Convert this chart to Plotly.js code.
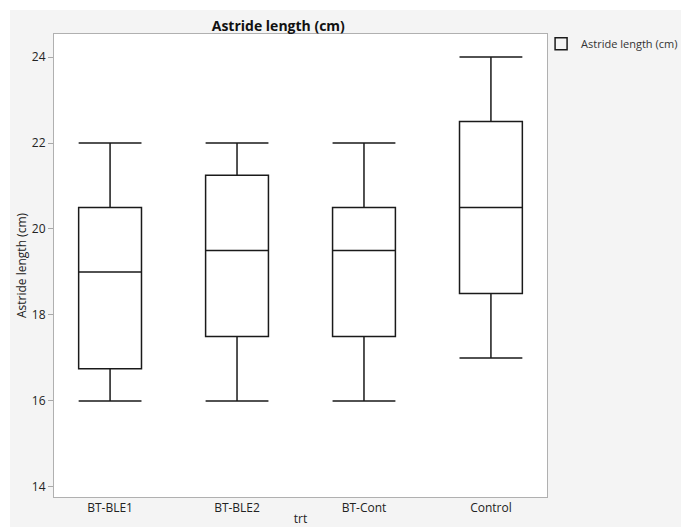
<!DOCTYPE html>
<html><head><meta charset="utf-8">
<script src="https://cdn.plot.ly/plotly-3.0.1.min.js"></script>
<style>
html,body{margin:0;padding:0;background:#ffffff;}
#chart{position:absolute;left:10px;top:10px;width:671px;height:517px;}
</style></head>
<body><div id="chart"></div>
<script>
const categories = ["BT-BLE1", "BT-BLE2", "BT-Cont", "Control"];
const minVals    = [16, 16, 16, 17];
const q1Vals     = [16.75, 17.5, 17.5, 18.5];
const medianVals = [19, 19.5, 19.5, 20.5];
const q3Vals     = [20.5, 21.25, 20.5, 22.5];
const maxVals    = [22, 22, 22, 24];
const yTicks     = [14, 16, 18, 20, 22, 24];
const seriesName = "Astride length (cm)";

const fontFam = "'Open Sans', 'Noto Sans', sans-serif";

const trace = {
  type: "box",
  name: seriesName,
  x: categories,
  q1: q1Vals,
  median: medianVals,
  q3: q3Vals,
  lowerfence: minVals,
  upperfence: maxVals,
  boxpoints: false,
  fillcolor: "rgba(255,255,255,0)",
  line: {color: "#1a1a1a", width: 1.5},
  whiskerwidth: 1,
  width: 0.495,
  showlegend: true
};

const layout = {
  width: 671, height: 517,
  margin: {l: 44, r: 134, t: 24, b: 30, autoexpand: false},
  paper_bgcolor: "#f4f4f4",
  plot_bgcolor: "#ffffff",
  font: {family: fontFam, size: 12, color: "#333333"},
  title: {text: "<b>Astride length (cm)</b>", x: 0.455, xref: "paper", xanchor: "center",
          y: 1, yref: "paper", yanchor: "bottom", pad: {b: 3},
          font: {family: fontFam, size: 14, color: "#111111"}},
  xaxis: {
    type: "category",
    categoryarray: categories,
    showline: true, mirror: true, linecolor: "#b0b0b0", linewidth: 1,
    ticks: "", showgrid: false, zeroline: false,
    automargin: false,
    tickfont: {size: 12, color: "#222222"},
    title: {text: "trt", standoff: 2, font: {size: 12, color: "#222222"}}
  },
  yaxis: {
    range: [13.767, 24.535],
    tickvals: yTicks,
    ticktext: yTicks.map(String),
    showline: true, mirror: true, linecolor: "#b0b0b0", linewidth: 1,
    ticks: "outside", ticklen: 5, tickcolor: "#a8a8a8",
    showgrid: false, zeroline: false,
    automargin: false,
    tickfont: {size: 12, color: "#222222"},
    title: {text: "Astride length (cm)", standoff: 2, font: {size: 12, color: "#222222"}}
  },
  legend: {x: 0.988, xanchor: "left", y: 1.01, yanchor: "top",
           bgcolor: "rgba(0,0,0,0)", font: {size: 11, color: "#333333"},
           itemwidth: 30},
  showlegend: true
};

Plotly.newPlot("chart", [trace], layout, {displayModeBar: false, staticPlot: true});
</script>
</body></html>
